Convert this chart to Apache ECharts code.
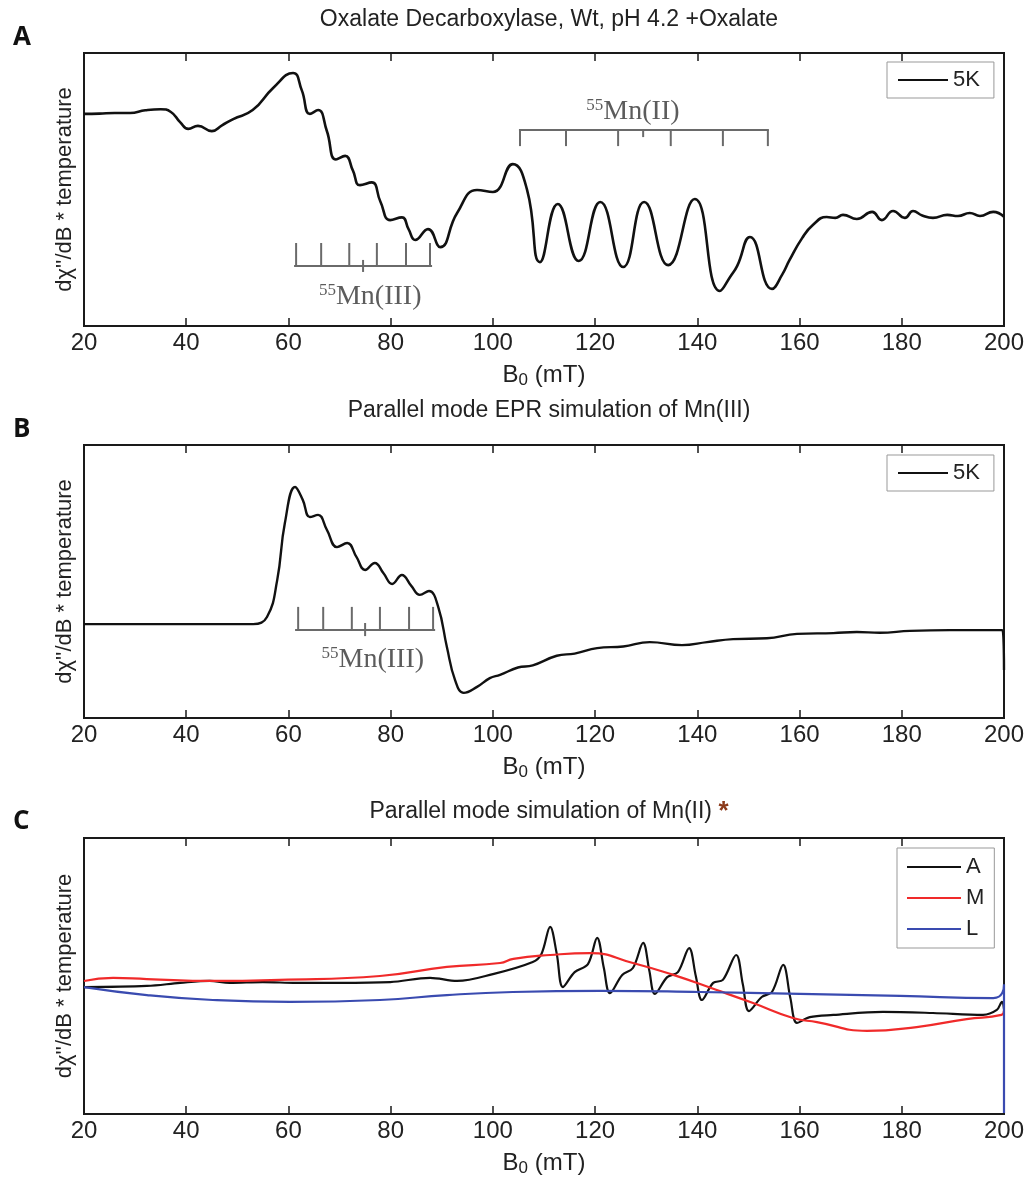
<!DOCTYPE html>
<html>
<head>
<meta charset="utf-8">
<script src="https://cdn.jsdelivr.net/npm/echarts@6/dist/echarts.min.js"></script>
<style>
html,body{margin:0;padding:0;background:#fff;}
#chart{width:1028px;height:1182px;}
</style>
</head>
<body>
<div id="chart"></div>
<script>
// ---------- data (B0 in mT, signal in arbitrary units) ----------
const xTicks = [20, 40, 60, 80, 100, 120, 140, 160, 180, 200];

const seriesA_5K = [
  [20,77.7],[23,77.8],[26,78.0],[29,78.0],[32,79.0],[35,79.4],[37,78.4],[38.8,74.7],[40.4,72.2],
  [42.3,73.3],[45,71.4],[47,73.5],[49.2,75.8],[53,79.1],[57,87.2],[60.9,92.7],[62.6,86.4],
  [64.2,77.7],[65.8,79.1],[67.5,71.5],[69.3,61],[71.1,62.3],[72.6,57],[74,51.6],[76.3,52.6],
  [78,45.5],[79.9,38.8],[82.2,39.8],[83.5,35.5],[84.8,31.5],[87.3,35.5],[89.7,28.9],[93,41.4],
  [96.9,49.8],[100,49.1],[103.9,59.3],[106.7,49.8],[109.2,23.4],[112.7,44.7],[116.8,23.8],
  [121,45.4],[125.5,21.6],[129.6,45.4],[134.3,22.3],[139.5,46.5],[144.4,12.8],[146.6,18.5],
  [147.8,22],[150.3,32.6],[154.6,13.6],[156.6,18.8],[158,24],[160.5,32.2],[162.6,37.0],
  [165.3,39.9],[167,39.6],[168.5,40.7],[171.2,39.2],[174.2,41.8],[176.1,38.8],[178.3,42.1],
  [180.6,39.6],[182.2,42.1],[184,40.5],[186.1,39.6],[188.9,40.7],[191,40.3],[193.3,41.4],
  [195.3,40.3],[197.9,41.8],[200,40.0]
];

const seriesB_5K = [
  [20,34.4],[40,34.4],[53.1,34.4],[55.8,37.0],[57.8,50.5],[59.3,71.4],[61.3,84.6],[62.8,79.9],
  [64.2,73.6],[65.8,74.4],[67.5,69],[69.5,62.6],[71.5,64.1],[73.3,59],[75,54.2],[76.9,56.8],
  [78.6,53],[80.3,49.1],[82.2,52.4],[84,48.5],[85.7,45.1],[87.5,46.5],[89.3,40.7],[91,26.0],
  [92.6,13.9],[94.3,9.2],[96.9,11.4],[99.4,14.6],[101.4,15.8],[104.9,18.5],[107.8,19.3],
  [112.5,22.8],[116,23.6],[120.4,25.6],[125.5,26.2],[130.7,27.8],[137,26.7],[141.9,27.8],
  [147,28.9],[153.6,29.2],[159.5,30.8],[166.6,31.1],[171.2,31.5],[175.7,31.2],[181.6,31.9],
  [189.4,32.2],[199.7,32.2],[200,17.6]
];

const seriesC_A = [
  [20,46.0],[32.3,46.4],[38.8,47.5],[44.6,48.2],[48.5,47.5],[55,47.8],[61.6,47.5],[70,47.5],
  [79.9,47.8],[87.7,49.3],[93,48.2],[100,50.7],[107.8,55.1],[109.5,58],[111.2,67.8],[112.5,58],
  [113.7,46.0],[116,51.4],[118.6,54.3],[120.4,63.8],[121.7,53],[122.9,43.8],[125.3,50.4],
  [127.4,52.9],[129.4,62.0],[130.6,52],[131.7,43.5],[134.1,49.6],[136.2,51.4],[138.4,60.1],
  [139.7,50],[140.9,41.3],[143.1,47.5],[145,48.6],[147.6,57.6],[148.9,47],[150.1,37.3],
  [152.6,42.4],[154.6,44.2],[156.8,54.0],[158.2,42],[159.5,33.0],[162,35.1],[166.6,35.9],
  [176.3,37.0],[186.1,36.6],[195.9,35.9],[198.6,37.7],[199.6,40.6],[200,38]
];
const seriesC_M = [
  [20,48.2],[25.7,49.3],[32.3,48.9],[45.2,48.2],[58.3,48.6],[77.9,50.0],[91,53.3],[101.4,54.7],
  [104,56.2],[111.2,57.6],[119,58.3],[127.4,54.7],[135.3,50.4],[143.8,44.9],[150.9,40.2],
  [158.7,34.8],[163.4,33.3],[173.2,30.1],[182.9,31.5],[192.7,34.4],[199.5,35.9],[200,37.5]
];
const seriesC_L = [
  [20,46.0],[32.3,43.1],[45.2,41.3],[60.3,40.6],[77.9,41.3],[91,43.1],[103.9,44.2],[121,44.6],
  [140.5,44.2],[160.1,43.5],[179.7,42.8],[197.9,42.0],[199.7,44],[200,47],[200,0.4]
];

// hyperfine stick annotations: tick positions (mT)
const mn3TicksA = [61.5, 66.4, 71.9, 77.3, 83, 87.7];
const mn3CenterA = 74.6;
const mn3SpanA = [61.1, 88.1];
const mn3TicksB = [61.9, 66.8, 72.4, 77.9, 83.6, 88.3];
const mn3CenterB = 75;
const mn3SpanB = [61.3, 88.7];
const mn2TicksA = [105.3, 114.3, 124.5, 134.8, 145, 153.8];
const mn2CenterA = 129.4;
const mn2SpanA = [105.1, 154];

// ---------- helpers ----------
function stickSegments(ticks, center, span, barY, tickY, cLo, cHi) {
  const segs = [[span[0], barY, span[1], barY]];
  ticks.forEach(t => segs.push([t, barY, t, tickY]));
  segs.push([center, cLo, center, cHi]);
  return segs;
}
const segA3 = stickSegments(mn3TicksA, mn3CenterA, mn3SpanA, 22.0, 30.4, 19.8, 24.2);
const segA2 = stickSegments(mn2TicksA, mn2CenterA, mn2SpanA, 71.8, 65.9, 69.2, 71.8);
const segB3 = stickSegments(mn3TicksB, mn3CenterB, mn3SpanB, 32.2, 40.7, 30.0, 34.8);

const FONT = 'Liberation Sans';
const TXT = '#222';

function renderSeg(params, api) {
  const p1 = api.coord([api.value(0), api.value(1)]);
  const p2 = api.coord([api.value(2), api.value(3)]);
  return {type: 'line', shape: {x1: p1[0], y1: p1[1], x2: p2[0], y2: p2[1]},
          style: {stroke: '#6a6a6a', lineWidth: 2}};
}

const grids = [
  {left: 84, top: 53, width: 920, height: 273},
  {left: 84, top: 445, width: 920, height: 273},
  {left: 84, top: 838, width: 920, height: 276}
].map(g => Object.assign({show: true, borderColor: '#1a1a1a', borderWidth: 2, backgroundColor: 'transparent'}, g));

function bottomAxis(i) {
  return {
    type: 'value', gridIndex: i, position: 'bottom', min: xTicks[0], max: xTicks[xTicks.length - 1],
    interval: xTicks[1] - xTicks[0],
    name: '{b|B}{s|0}{b| (mT)}', nameLocation: 'middle', nameGap: 26,
    nameTextStyle: {rich: {
      b: {fontSize: 24, fontFamily: FONT, color: TXT, lineHeight: 26, verticalAlign: 'top'},
      s: {fontSize: 17, fontFamily: FONT, color: TXT, lineHeight: 26, verticalAlign: 'bottom', padding: [16, 0, 0, 0]}
    }},
    axisLine: {show: true, lineStyle: {color: '#1a1a1a', width: 2}},
    axisTick: {show: true, inside: true, length: 8, lineStyle: {color: '#1a1a1a', width: 1.5}},
    axisLabel: {show: true, fontSize: 24, fontFamily: FONT, color: TXT, margin: 5},
    splitLine: {show: false}
  };
}
function topAxis(i) {
  return {
    type: 'value', gridIndex: i, position: 'top', min: xTicks[0], max: xTicks[xTicks.length - 1],
    interval: xTicks[1] - xTicks[0],
    axisLine: {show: true, lineStyle: {color: '#1a1a1a', width: 2}},
    axisTick: {show: true, inside: true, length: 8, lineStyle: {color: '#1a1a1a', width: 1.5}},
    axisLabel: {show: false}, splitLine: {show: false}
  };
}
function yAx(i) {
  return {
    type: 'value', gridIndex: i, min: 0, max: 100,
    name: "dχ''/dB * temperature", nameLocation: 'middle', nameGap: 8, nameRotate: 90,
    nameTextStyle: {fontSize: 22, fontFamily: FONT, color: TXT},
    axisLine: {show: false}, axisTick: {show: false}, axisLabel: {show: false}, splitLine: {show: false}
  };
}

const mnRich = {
  s: {fontSize: 17, fontFamily: 'Liberation Serif', color: '#333', verticalAlign: 'top', lineHeight: 30, padding: [0, 0, 10, 0]},
  m: {fontSize: 28, fontFamily: 'Liberation Serif', color: '#333', lineHeight: 30}
};
function mnLabel(name, xi, yi, pt, text) {
  return {
    name: name, type: 'scatter', xAxisIndex: xi, yAxisIndex: yi, data: [pt], symbolSize: 0, silent: true,
    label: {show: true, position: 'inside', formatter: text, rich: mnRich}
  };
}

const lineBase = {type: 'line', symbol: 'none', showSymbol: false, silent: true, animation: false};

const legendBase = {borderColor: '#999', borderWidth: 1, icon: 'rect', itemHeight: 2, selectedMode: false,
  textStyle: {fontSize: 22, fontFamily: FONT, color: TXT, lineHeight: 24}};

const option = {
  animation: false,
  backgroundColor: '#fff',
  title: [
    {text: 'Oxalate Decarboxylase, Wt, pH 4.2 +Oxalate', left: 544, top: 3, textAlign: 'center',
     textStyle: {fontSize: 23, fontWeight: 'normal', fontFamily: FONT, color: TXT}},
    {text: 'Parallel mode EPR simulation of Mn(III)', left: 544, top: 394, textAlign: 'center',
     textStyle: {fontSize: 23, fontWeight: 'normal', fontFamily: FONT, color: TXT}},
    {text: 'Parallel mode simulation of Mn(II) {a|*}', left: 544, top: 794, textAlign: 'center',
     textStyle: {fontSize: 23, fontWeight: 'normal', fontFamily: FONT, color: TXT,
       rich: {a: {fontSize: 26, fontWeight: 'bold', fontFamily: FONT, color: '#8b3a1a'}}}},
    {text: 'A', left: 8, top: 20, textStyle: {fontSize: 26, fontWeight: 'bold', fontFamily: 'Open Sans', color: '#111'}},
    {text: 'B', left: 8, top: 412, textStyle: {fontSize: 26, fontWeight: 'bold', fontFamily: 'Open Sans', color: '#111'}},
    {text: 'C', left: 8, top: 804, textStyle: {fontSize: 26, fontWeight: 'bold', fontFamily: 'Open Sans', color: '#111'}}
  ],
  legend: [
    Object.assign({}, legendBase, {data: ['5K'], left: 887, top: 62, padding: [6, 14, 6, 11], itemWidth: 50, itemGap: 6}),
    Object.assign({}, legendBase, {data: ['5K '], left: 887, top: 455, padding: [6, 14, 6, 11], itemWidth: 50, itemGap: 6,
      formatter: function (n) { return n.trim(); }}),
    Object.assign({}, legendBase, {data: ['A', 'M', 'L'], left: 897, top: 848, orient: 'vertical',
      padding: [7, 10, 7, 10], itemWidth: 54, itemGap: 7})
  ],
  grid: grids,
  xAxis: [bottomAxis(0), bottomAxis(1), bottomAxis(2), topAxis(0), topAxis(1), topAxis(2)],
  yAxis: [yAx(0), yAx(1), yAx(2)],
  series: [
    Object.assign({}, lineBase, {name: '5K', xAxisIndex: 0, yAxisIndex: 0, data: seriesA_5K, smooth: 0.5,
      lineStyle: {color: '#111', width: 2.6}, itemStyle: {color: '#111'}}),
    {type: 'custom', name: 'sticksA3', xAxisIndex: 0, yAxisIndex: 0, data: segA3, renderItem: renderSeg,
     encode: {x: [0, 2], y: [1, 3]}, silent: true},
    {type: 'custom', name: 'sticksA2', xAxisIndex: 0, yAxisIndex: 0, data: segA2, renderItem: renderSeg,
     encode: {x: [0, 2], y: [1, 3]}, silent: true},
    mnLabel('labA3', 0, 0, [76, 10.6], '{s|55}{m|Mn(III)}'),
    mnLabel('labA2', 0, 0, [127.4, 78.5], '{s|55}{m|Mn(II)}'),

    Object.assign({}, lineBase, {name: '5K ', xAxisIndex: 1, yAxisIndex: 1, data: seriesB_5K, smooth: 0.45,
      lineStyle: {color: '#111', width: 2.4}, itemStyle: {color: '#111'}}),
    {type: 'custom', name: 'sticksB3', xAxisIndex: 1, yAxisIndex: 1, data: segB3, renderItem: renderSeg,
     encode: {x: [0, 2], y: [1, 3]}, silent: true},
    mnLabel('labB3', 1, 1, [76.5, 21.2], '{s|55}{m|Mn(III)}'),

    Object.assign({}, lineBase, {name: 'A', xAxisIndex: 2, yAxisIndex: 2, data: seriesC_A, smooth: 0.35,
      lineStyle: {color: '#111', width: 2.2}, itemStyle: {color: '#111'}}),
    Object.assign({}, lineBase, {name: 'M', xAxisIndex: 2, yAxisIndex: 2, data: seriesC_M, smooth: 0.5,
      lineStyle: {color: '#f02a2a', width: 2.2}, itemStyle: {color: '#f02a2a'}}),
    Object.assign({}, lineBase, {name: 'L', xAxisIndex: 2, yAxisIndex: 2, data: seriesC_L, smooth: 0.5,
      lineStyle: {color: '#3a4bb0', width: 2.2}, itemStyle: {color: '#3a4bb0'}})
  ]
};

const chart = echarts.init(document.getElementById('chart'), null, {renderer: 'canvas'});
chart.setOption(option);
</script>
</body>
</html>
